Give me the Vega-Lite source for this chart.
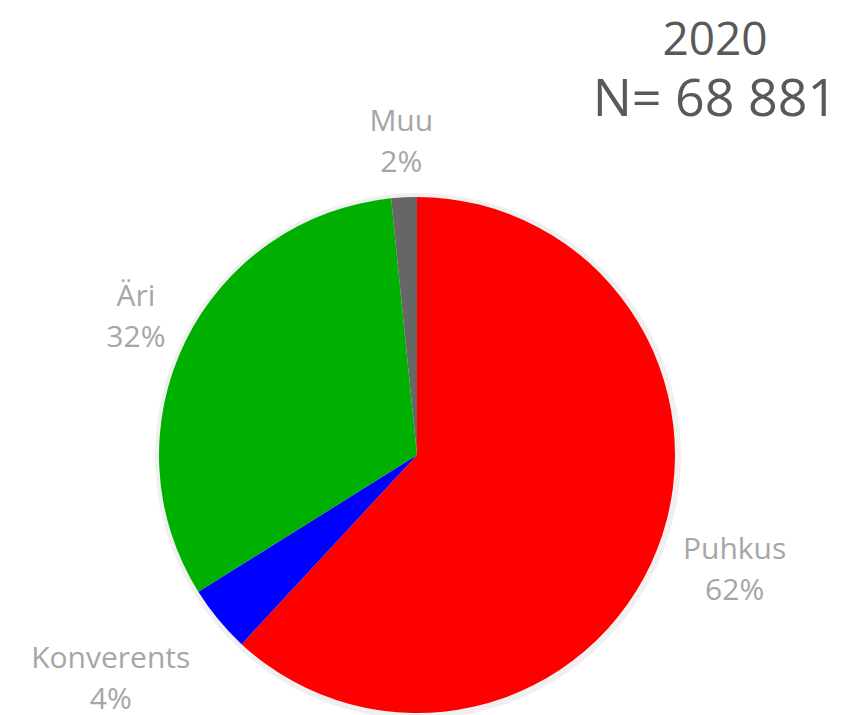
{
  "$schema": "https://vega.github.io/schema/vega-lite/v6.json",
  "width": 843,
  "height": 715,
  "autosize": {"type": "none"},
  "padding": 0,
  "background": "white",
  "view": {"stroke": null},
  "title": {
    "text": "2020",
    "subtitle": "N= 68 881",
    "orient": "top",
    "anchor": "end",
    "frame": "group",
    "align": "center",
    "baseline": "top",
    "dx": -128,
    "dy": 127,
    "offset": 0,
    "font": "Open Sans",
    "fontSize": 46,
    "fontWeight": "normal",
    "color": "#595959",
    "subtitleFont": "Open Sans",
    "subtitleFontSize": 52,
    "subtitleColor": "#595959",
    "subtitlePadding": 10
  },
  "data": {
    "values": [
      {"kategooria": "Puhkus", "osa": 61.9, "jrk": 1, "silt": "Puhkus\n62%"},
      {"kategooria": "Konverents", "osa": 4.2, "jrk": 2, "silt": "Konverents\n4%"},
      {"kategooria": "Äri", "osa": 32.3, "jrk": 3, "silt": "Äri\n32%"},
      {"kategooria": "Muu", "osa": 1.6, "jrk": 4, "silt": "Muu\n2%"}
    ]
  },
  "encoding": {
    "theta": {"field": "osa", "type": "quantitative", "stack": true},
    "order": {"field": "jrk", "type": "quantitative"}
  },
  "layer": [
    {
      "mark": {"type": "arc", "x": 418, "y": 456, "outerRadius": 263, "color": "#000000", "opacity": 0.06}
    },
    {
      "mark": {"type": "arc", "x": 417, "y": 455, "outerRadius": 258},
      "encoding": {
        "color": {
          "field": "kategooria",
          "type": "nominal",
          "scale": {"domain": ["Puhkus", "Konverents", "Äri", "Muu"], "range": ["#ff0000", "#0000ff", "#00b000", "#666666"]},
          "legend": null
        }
      }
    },
    {
      "mark": {"type": "text", "x": 417, "y": 455, "radius": 313, "dy": -20, "font": "Open Sans", "fontSize": 30, "color": "#a6a6a6", "lineBreak": "\n", "align": "center", "baseline": "middle", "lineHeight": 41},
      "encoding": {"text": {"condition": {"test": "datum.kategooria == 'Äri' || datum.kategooria == 'Muu'", "field": "silt"}, "value": ""}}
    },
    {
      "mark": {"type": "text", "x": 417, "y": 455, "radius": 338, "dx": 3, "dy": -28, "font": "Open Sans", "fontSize": 30, "color": "#a6a6a6", "lineBreak": "\n", "align": "center", "baseline": "middle", "lineHeight": 41},
      "encoding": {"text": {"condition": {"test": "datum.kategooria == 'Puhkus'", "field": "silt"}, "value": ""}}
    },
    {
      "mark": {"type": "text", "x": 417, "y": 455, "radius": 330, "dx": -52, "dy": -6, "font": "Open Sans", "fontSize": 30, "color": "#a6a6a6", "lineBreak": "\n", "align": "center", "baseline": "middle", "lineHeight": 41},
      "encoding": {"text": {"condition": {"test": "datum.kategooria == 'Konverents'", "field": "silt"}, "value": ""}}
    }
  ]
}
